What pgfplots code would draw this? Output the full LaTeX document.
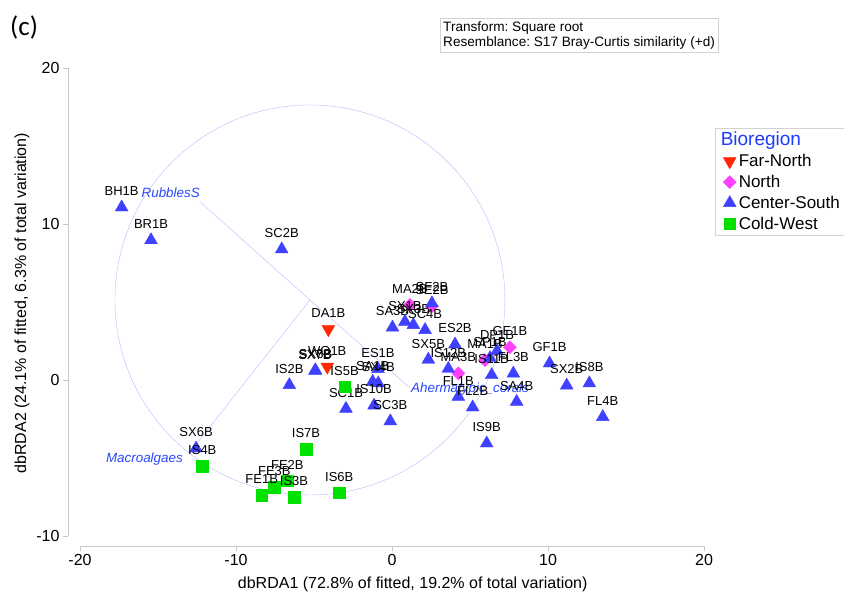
\documentclass[border=0pt]{standalone}
\usepackage{pgfplots}
\pgfplotsset{compat=1.18}
\usepackage{pgfplotstable}
\usepackage{fontspec}
\setmainfont{Liberation Sans}
\newfontfamily\carlito{Carlito}
\frenchspacing

\definecolor{fn}{RGB}{255,40,0}
\definecolor{no}{RGB}{255,64,255}
\definecolor{cs}{RGB}{64,64,255}
\definecolor{cw}{RGB}{0,225,0}
\definecolor{vecline}{RGB}{185,185,255}
\definecolor{veclab}{RGB}{40,70,255}
\definecolor{axgray}{RGB}{200,200,200}
\definecolor{legtitle}{RGB}{30,60,255}

\pgfplotstableread{
x y lab
-4.08 3.25 DA1B
-4.15 0.85 WO1B
}\farnorth

\pgfplotstableread{
x y lab
1.15 4.81 MA2B
2.56 4.74 SE2B
4.25 0.43 MA3B
5.96 1.28 MA1B
7.56 2.10 GE1B
}\north

\pgfplotstableread{
x y lab
-17.33 11.07 BH1B
-15.45 8.97 BR1B
-7.07 8.38 SC2B
-12.56 -4.38 SX6B
-6.58 -0.32 IS2B
-4.94 0.60 SX7B
-4.90 0.62 SX8B
-2.95 -1.84 SC1B
-0.90 0.71 ES1B
-1.24 -0.11 SA1B
-0.88 -0.21 SX4B
-1.15 -1.63 IS10B
-0.11 -2.64 SC3B
0.03 3.37 SA3B
0.83 3.74 SX1B
1.37 3.53 SX3B
2.12 3.21 SC4B
2.56 4.92 SF2B
4.04 2.28 ES2B
2.33 1.31 SX5B
3.61 0.72 IS12B
6.73 1.86 DP1B
6.28 1.41 SP1B
6.39 0.32 IS11B
7.78 0.42 FL3B
10.10 1.07 GF1B
11.20 -0.35 SX2B
12.65 -0.21 IS8B
13.51 -2.37 FL4B
7.99 -1.39 SA4B
4.25 -1.07 FL1B
5.17 -1.75 FL2B
6.07 -4.06 IS9B
}\centersouth

\pgfplotstableread{
x y lab
-3.04 -0.42 IS5B
-12.16 -5.51 IS4B
-5.51 -4.44 IS7B
-6.71 -6.46 FE2B
-7.54 -6.88 FE3B
-8.35 -7.37 FE1B
-6.28 -7.52 IS3B
-3.38 -7.22 IS6B
}\coldwest

\begin{document}
\begin{tikzpicture}
\path[use as bounding box] (-68pt,-50pt) rectangle (776pt,546pt);
\begin{axis}[
  at={(0,0)}, anchor=south west,
  scale only axis, width=636pt, height=478pt,
  xmin=-20.77, xmax=20, ymin=-10.64, ymax=20,
  clip=false,
  axis x line*=bottom, axis y line*=left,
  axis line style={draw=none},
  tick align=outside, major tick length=5pt,
  tick style={draw=axgray, thin},
  xtick={-20,-10,0,10,20}, ytick={-10,0,10,20},
  /pgf/number format/assume math mode=true,
  tick label style={font=\fontsize{16}{19}\selectfont},
  xlabel={dbRDA1 (72.8\% of fitted, 19.2\% of total variation)},
  ylabel={dbRDA2 (24.1\% of fitted, 6.3\% of total variation)},
  label style={font=\fontsize{16}{19}\selectfont},
  xlabel style={at={(axis description cs:0.542,-0.0879)}, anchor=base},
  ylabel style={at={(axis description cs:-0.0723,0.508)}, anchor=center, rotate=0},
  legend style={at={(axis description cs:1.0173,0.8745)}, anchor=north west,
    draw=gray!35, fill=white, font=\fontsize{17}{20}\selectfont,
    inner xsep=6pt, inner ysep=2.5pt, row sep=4pt, nodes={inner sep=1.5pt}},
  legend cell align=left,
  every node near coord/.append style={font=\fontsize{13}{15}\selectfont, text=black, anchor=base, yshift=11.5pt, inner sep=0pt},
]
% vector overlay
\draw[vecline] (axis cs:-5.26,5.13) circle[radius=195pt];
\addplot[vecline, no markers, forget plot] coordinates {(-5.26,5.13) (-12.31,11.43)};
\addplot[vecline, no markers, forget plot] coordinates {(-5.26,5.13) (1.15,-0.51)};
\addplot[vecline, no markers, forget plot] coordinates {(-5.26,5.13) (-12.95,-4.62)};
\node[anchor=base east, inner sep=0pt, text=veclab, font=\itshape\fontsize{13.4}{16}\selectfont] at (axis cs:-12.31,11.67) {RubblesS};
\node[anchor=base east, inner sep=0pt, text=veclab, font=\itshape\fontsize{13.4}{16}\selectfont] at (axis cs:-13.40,-5.26) {Macroalgaes};
\node[anchor=base west, inner sep=0pt, text=veclab, font=\itshape\fontsize{13.4}{16}\selectfont] at (axis cs:1.22,-0.77) {Ahermatypic\_corals};

\addlegendimage{empty legend}
\addlegendentry{\hspace*{-17pt}\textcolor{legtitle}{\fontsize{19}{22}\selectfont Bioregion}}

\addplot[only marks, mark=triangle*, mark size=7.4pt, mark options={rotate=180, draw=fn, fill=fn},
  nodes near coords, point meta=explicit symbolic] table[x=x,y=y,meta=lab] {\farnorth};
\addlegendentry{\hspace*{1pt}Far-North}
\addplot[only marks, mark=square*, mark size=4.6pt, mark options={rotate=45, draw=no, fill=no},
  nodes near coords, point meta=explicit symbolic] table[x=x,y=y,meta=lab] {\north};
\addlegendentry{\hspace*{1pt}North}
\addplot[only marks, mark=triangle*, mark size=7.4pt, mark options={draw=cs, fill=cs},
  nodes near coords, point meta=explicit symbolic] table[x=x,y=y,meta=lab] {\centersouth};
\addlegendentry{\hspace*{1pt}Center-South}
\addplot[only marks, mark=square*, mark size=5.8pt, mark options={draw=cw, fill=cw},
  nodes near coords, point meta=explicit symbolic] table[x=x,y=y,meta=lab] {\coldwest};
\addlegendentry{\hspace*{1pt}Cold-West}

\draw[axgray] (axis cs:-20,-10.64) -- (axis cs:20,-10.64);
\draw[axgray] (axis cs:-20.77,-10) -- (axis cs:-20.77,20);
\end{axis}
\node[anchor=base west, inner sep=0pt, font=\carlito\fontsize{27}{32}\selectfont] at (-58pt,510pt) {(c)};
\node[anchor=north west, draw=gray!35, align=left, inner sep=3pt, font=\fontsize{13.6}{15.8}\selectfont] at (372pt,528pt) {Transform: Square root\\Resemblance: S17 Bray-Curtis similarity (+d)};
\end{tikzpicture}
\end{document}
